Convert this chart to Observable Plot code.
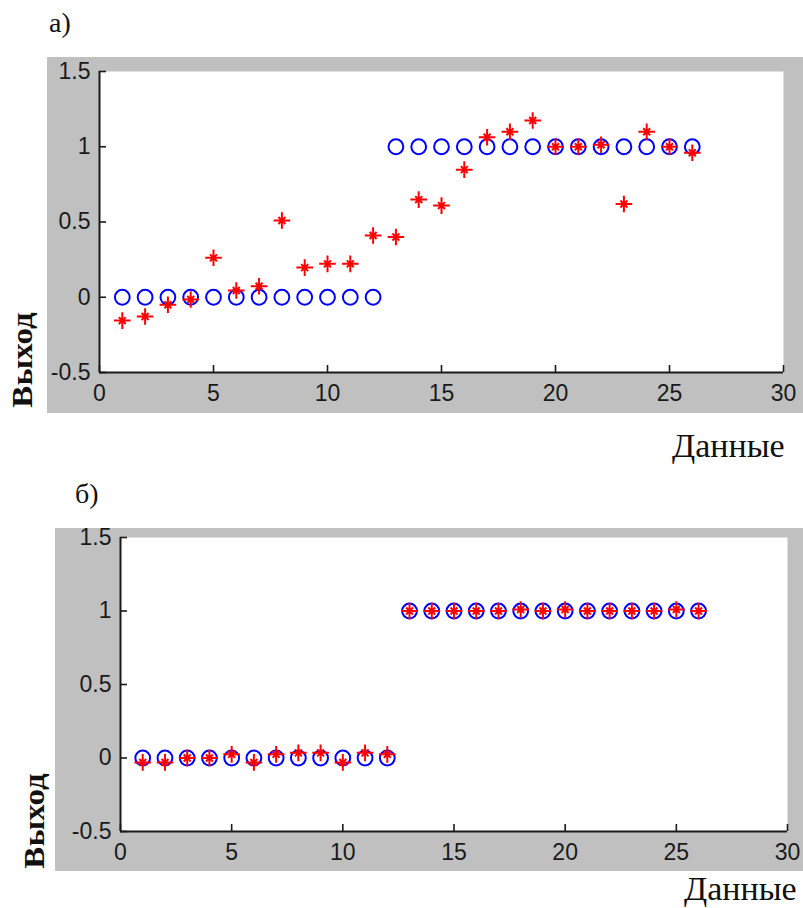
<!DOCTYPE html>
<html>
<head>
<meta charset="utf-8">
<script src="https://cdn.jsdelivr.net/npm/d3@7"></script>
<script src="https://cdn.jsdelivr.net/npm/@observablehq/plot@0.6"></script>
<style>
  body { margin: 0; background: #fff; }
  #page { position: relative; width: 803px; height: 908px; overflow: hidden;
          font-family: "Liberation Serif", "Times New Roman", serif; color: #111; }
  .abs { position: absolute; line-height: 1; white-space: nowrap; }
  .plab { font-size: 28px; }
  .xlab { font-size: 34px; transform-origin: left top; transform: scaleX(1.0); }
  .ylab { font-size: 30px; font-weight: bold; transform: translate(-50%, -50%) rotate(-90deg) scaleX(1.1); }
  svg { display: block; }
</style>
</head>
<body>
<div id="page">
  <div class="abs plab" style="left:49px; top:9px;">а)</div>
  <div class="abs plab" style="left:75px; top:480px;">б)</div>
  <div id="panelA" class="abs" style="left:47px; top:57px;"></div>
  <div id="panelB" class="abs" style="left:55px; top:528px;"></div>
  <div class="abs ylab" style="left:22px; top:360px;">Выход</div>
  <div class="abs ylab" style="left:34px; top:821px;">Выход</div>
  <div class="abs xlab" style="left:672px; top:429px;">Данные</div>
  <div class="abs xlab" style="left:684px; top:872px;">Данные</div>
</div>
<script>
// ---- data ----
const sampleIndex = [1, 2, 3, 4, 5, 6, 7, 8, 9, 10, 11, 12, 13, 14, 15, 16, 17, 18, 19, 20, 21, 22, 23, 24, 25, 26];
const targetValues = [0, 0, 0, 0, 0, 0, 0, 0, 0, 0, 0, 0, 1, 1, 1, 1, 1, 1, 1, 1, 1, 1, 1, 1, 1, 1];
const outputA = [-0.155, -0.128, -0.05, -0.015, 0.262, 0.045, 0.073, 0.51, 0.197, 0.222, 0.222, 0.41, 0.40,
                 0.649, 0.609, 0.848, 1.063, 1.10, 1.174, 1.0, 1.0, 1.013, 0.62, 1.10, 1.0, 0.96];
const outputB = [-0.03, -0.03, 0.0, 0.0, 0.025, -0.03, 0.025, 0.035, 0.035, -0.03, 0.035, 0.025, 1.0,
                 1.0, 1.0, 1.0, 1.0, 1.01, 1.0, 1.01, 1.0, 1.0, 1.0, 1.0, 1.01, 1.0];
const xTicks = [0, 5, 10, 15, 20, 25, 30];
const yTicks = [-0.5, 0, 0.5, 1, 1.5];
const xTickLabels = ["0", "5", "10", "15", "20", "25", "30"];
const yTickLabels = ["-0.5", "0", "0.5", "1", "1.5"];

// MATLAB-like '*' marker: plus with long arms + short diagonal cross
const matlabStar = {
  draw(ctx, size) {
    const r = Math.sqrt(size / Math.PI);
    const s = r * 0.42;
    ctx.moveTo(-r, 0); ctx.lineTo(r, 0);
    ctx.moveTo(0, -r); ctx.lineTo(0, r);
    ctx.moveTo(-s, -s); ctx.lineTo(s, s);
    ctx.moveTo(-s, s); ctx.lineTo(s, -s);
  }
};

function panel({width, height, ml, mt, mr, mb, output}) {
  const rows = sampleIndex.map((d, i) => ({i: d, target: targetValues[i], output: output[i]}));
  const plotW = width - ml - mr, plotH = height - mt - mb;
  const ink = "#1a1a1a";
  return Plot.plot({
    width, height,
    marginLeft: ml, marginTop: mt, marginRight: mr, marginBottom: mb,
    style: {background: "#c0c0c0", fontFamily: "'Liberation Sans', Arial, sans-serif", fontSize: "23px", color: ink, overflow: "visible"},
    x: {domain: [0, 30]},
    y: {domain: [-0.5, 1.5]},
    marks: [
      Plot.frame({fill: "white", stroke: "none"}),
      Plot.axisX({ticks: xTicks, tickSize: 0, tickPadding: 12, tickFormat: d => xTickLabels[xTicks.indexOf(d)], label: null}),
      Plot.axisY({ticks: yTicks, tickSize: 0, tickPadding: 9, tickFormat: d => yTickLabels[yTicks.indexOf(d)], label: null}),
      Plot.tickX(xTicks, {x: d => d, insetTop: plotH - 7, stroke: ink, strokeWidth: 1.6}),
      Plot.tickY(yTicks, {y: d => d, insetRight: plotW - 7, stroke: ink, strokeWidth: 1.6}),
      Plot.ruleX([0], {stroke: ink, strokeWidth: 2}),
      Plot.ruleY([-0.5], {stroke: ink, strokeWidth: 2}),
      Plot.dot(rows, {x: "i", y: "target", r: 7.4, symbol: "circle", fill: "none", stroke: "#0000ff", strokeWidth: 2}),
      Plot.dot(rows, {x: "i", y: "output", r: 8.3, symbol: matlabStar, fill: "none", stroke: "#ff0000", strokeWidth: 2})
    ]
  });
}

document.getElementById("panelA").append(panel({width: 756, height: 356, ml: 52, mt: 14, mr: 20, mb: 41, output: outputA}));
document.getElementById("panelB").append(panel({width: 748, height: 343, ml: 65, mt: 9, mr: 16, mb: 40, output: outputB}));
</script>
</body>
</html>
